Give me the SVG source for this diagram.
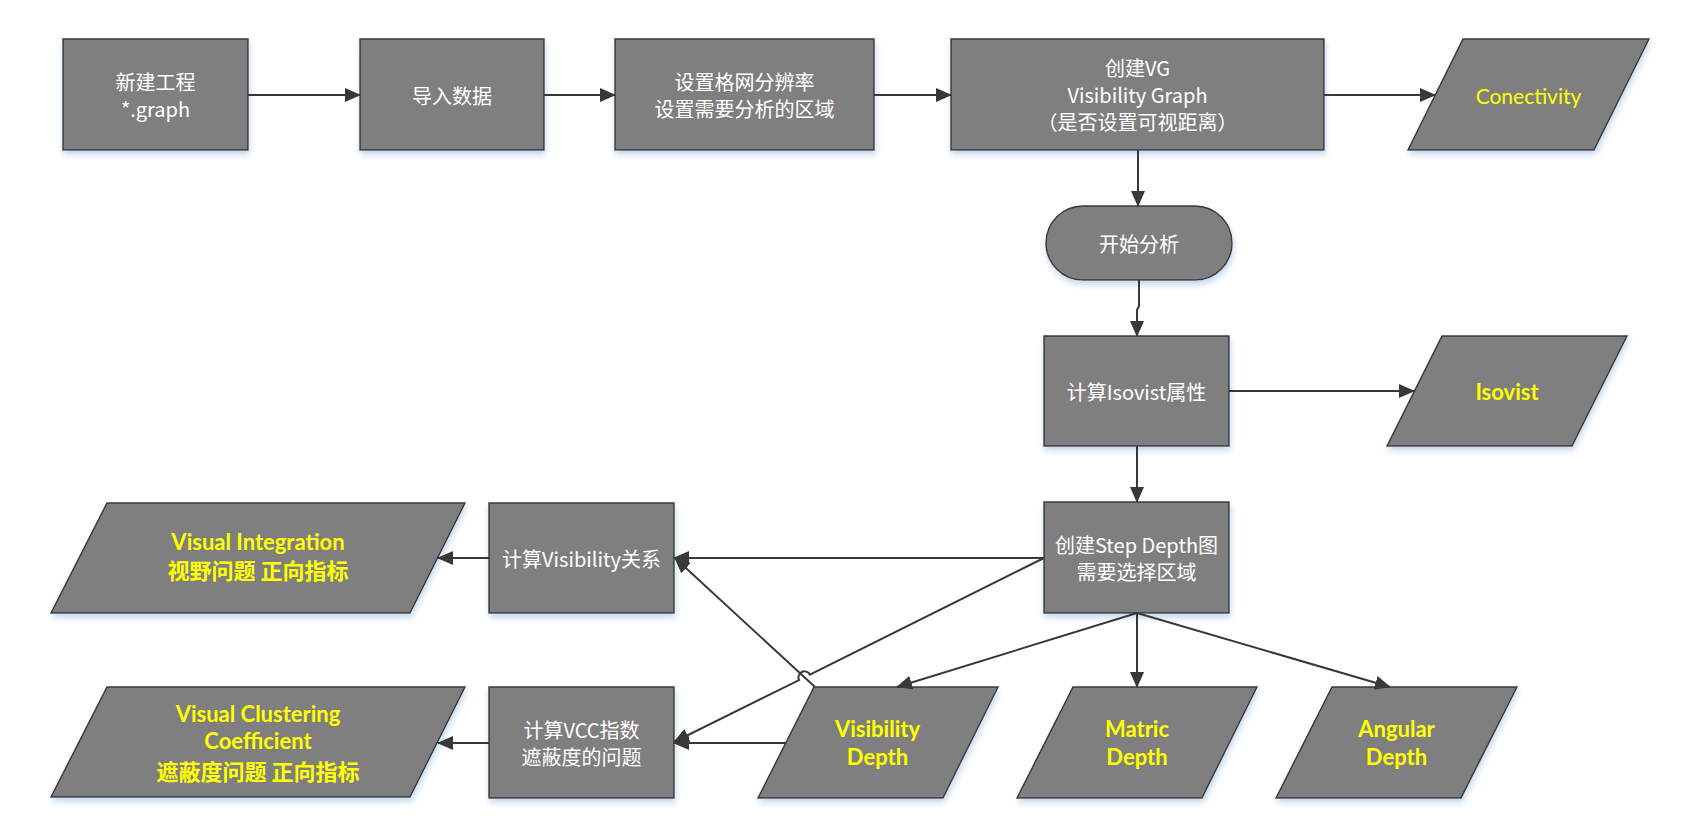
<svg xmlns="http://www.w3.org/2000/svg" width="1699" height="826" viewBox="0 0 1699 826">
<style>
.n{fill:#7f7f7f;stroke:#383838;stroke-width:1.5;filter:url(#sh)}
.t{font-family:"Noto Sans CJK SC","Noto Sans",sans-serif;font-size:20px;fill:#ffffff;text-anchor:middle;dominant-baseline:central}
.yl{font-family:Lato,"Noto Sans",sans-serif;font-size:21px;fill:#ffff00;text-anchor:middle;dominant-baseline:central}
.yc{font-family:"Noto Sans CJK SC","Noto Sans",sans-serif;font-size:22px;font-weight:bold;fill:#ffff00;text-anchor:middle;dominant-baseline:central}
.b{font-weight:bold;font-size:22px}
.c{fill:none;stroke:#383838;stroke-width:2;marker-end:url(#ah)}
</style>
<defs>
<filter id="sh" x="-10%" y="-10%" width="125%" height="140%">
<feGaussianBlur in="SourceAlpha" stdDeviation="3"/>
<feOffset dx="1" dy="4" result="b"/>
<feFlood flood-color="#c4d8ee"/>
<feComposite in2="b" operator="in"/>
<feMerge><feMergeNode/><feMergeNode in="SourceGraphic"/></feMerge>
</filter>
<marker id="ah" markerUnits="userSpaceOnUse" markerWidth="16" markerHeight="14" refX="15" refY="7" orient="auto">
<path d="M0,0 L16,7 L0,14 z" fill="#383838"/>
</marker>
</defs>
<rect width="1699" height="826" fill="#ffffff"/>

<g id="new-project">
<rect class="n" x="63" y="39" width="185" height="111"/>
<text class="t" x="155.5" y="81">新建工程</text>
<text class="t" x="155.5" y="108">*.graph</text>
</g>
<g id="import-data">
<rect class="n" x="360" y="39" width="184" height="111"/>
<text class="t" x="452" y="95">导入数据</text>
</g>
<g id="grid-setting">
<rect class="n" x="615" y="39" width="259" height="111"/>
<text class="t" x="744.5" y="81">设置格网分辨率</text>
<text class="t" x="744.5" y="108">设置需要分析的区域</text>
</g>
<g id="create-vg">
<rect class="n" x="951" y="39" width="373" height="111"/>
<text class="t" x="1137.5" y="67">创建VG</text>
<text class="t" x="1137.5" y="94">Visibility Graph</text>
<text class="t" x="1137.5" y="121">（是否设置可视距离）</text>
</g>
<g id="conectivity">
<polygon class="n" points="1408,150 1463,39 1649,39 1594,150"/>
<text class="yl" x="1528.5" y="95">Conectivity</text>
</g>
<g id="start-analysis">
<rect class="n" x="1046" y="206" width="186" height="74" rx="37" ry="37"/>
<text class="t" x="1139" y="243">开始分析</text>
</g>
<g id="calc-isovist">
<rect class="n" x="1044" y="336" width="185" height="110"/>
<text class="t" x="1136.5" y="391">计算Isovist属性</text>
</g>
<g id="isovist">
<polygon class="n" points="1387,446 1442,336 1627,336 1572,446"/>
<text class="yl b" x="1507" y="391">Isovist</text>
</g>
<g id="step-depth">
<rect class="n" x="1044" y="502" width="185" height="111"/>
<text class="t" x="1136.5" y="544">创建Step Depth图</text>
<text class="t" x="1136.5" y="571">需要选择区域</text>
</g>
<g id="calc-visibility">
<rect class="n" x="489" y="503" width="185" height="110"/>
<text class="t" x="581.5" y="558">计算Visibility关系</text>
</g>
<g id="visual-integration">
<polygon class="n" points="51,613 107,503 465,503 410,613"/>
<text class="yl b" x="258" y="541">Visual Integration</text>
<text class="yc" x="258" y="569">视野问题 正向指标</text>
</g>
<g id="calc-vcc">
<rect class="n" x="489" y="687" width="185" height="111"/>
<text class="t" x="581.5" y="729">计算VCC指数</text>
<text class="t" x="581.5" y="756">遮蔽度的问题</text>
</g>
<g id="vcc">
<polygon class="n" points="51,797 107,687 465,687 410,797"/>
<text class="yl b" x="258" y="713">Visual Clustering</text>
<text class="yl b" x="258" y="740">Coefficient</text>
<text class="yc" x="258" y="770">遮蔽度问题 正向指标</text>
</g>
<g id="visibility-depth">
<polygon class="n" points="758,798 814,687 998,687 943,798"/>
<text class="yl b" x="877.5" y="728">Visibility</text>
<text class="yl b" x="877.5" y="756">Depth</text>
</g>
<g id="matric-depth">
<polygon class="n" points="1017,798 1073,687 1257,687 1202,798"/>
<text class="yl b" x="1137" y="728">Matric</text>
<text class="yl b" x="1137" y="756">Depth</text>
</g>
<g id="angular-depth">
<polygon class="n" points="1276,798 1332,687 1517,687 1461,798"/>
<text class="yl b" x="1396.5" y="728">Angular</text>
<text class="yl b" x="1396.5" y="756">Depth</text>
</g>

<g id="connectors">
<path class="c" d="M248,95 H360"/>
<path class="c" d="M544,95 H615"/>
<path class="c" d="M874,95 H951"/>
<path class="c" d="M1324,95 H1435"/>
<path class="c" d="M1138,150 V206"/>
<path class="c" d="M1139,280 V306 L1137,310 V336"/>
<path class="c" d="M1229,391 H1414"/>
<path class="c" d="M1137,446 V502"/>
<path class="c" d="M1044,558 H674"/>
<path class="c" d="M489,558 H438"/>
<path class="c" d="M1044,558 L809.9,674.7 A6,6 0 0 0 799.1,680.1 L674,742"/>
<path class="c" d="M815,687 L675,558"/>
<path class="c" d="M786,743 H674"/>
<path class="c" d="M489,743 H438"/>
<path class="c" d="M1137,613 L897,687"/>
<path class="c" d="M1137,613 V687"/>
<path class="c" d="M1137,613 L1390,687"/>
</g>
</svg>
